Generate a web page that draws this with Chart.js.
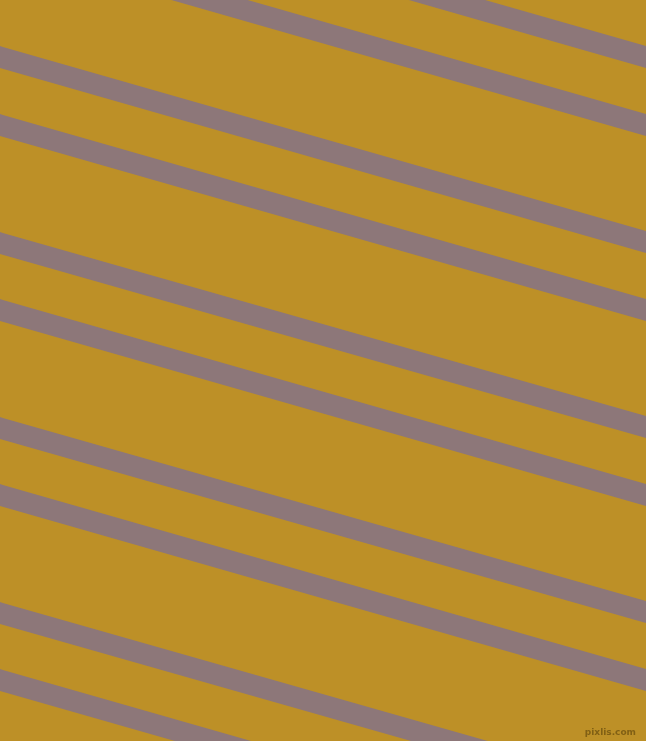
<!DOCTYPE html>
<html>
<head>
<meta charset="utf-8">
<script src="https://cdn.jsdelivr.net/npm/chart.js@4.4.1/dist/chart.umd.min.js"></script>
<style>
    html, body { margin: 0; padding: 0; background: #bd9027; }
    #wrap { position: relative; width: 646px; height: 741px; }
</style>
</head>
<body>
<div id="wrap"><canvas id="stripes"></canvas></div>
<script>
// stripe positions read at the left edge (x = 0) and right edge (x = 646), in px from top
const leftEdgeY = [-128, -60, 57, 125, 243, 310, 428, 495, 613, 680];
const rightEdgeY = [57, 125, 242, 310, 427, 495, 612, 680, 797, 865];
const edgeX = [0, 646];

const stripeColor = "#8d7779";
const bgColor = "#bd9027";

const datasets = leftEdgeY.map((y0, i) => ({
    data: [{ x: edgeX[0], y: y0 }, { x: edgeX[1], y: rightEdgeY[i] }],
    borderColor: stripeColor,
    borderWidth: 21,
    borderCapStyle: "square",
    pointRadius: 0,
    tension: 0,
    fill: false,
    clip: false,
}));

const watermark = {
    id: "watermark",
    afterDraw(chart) {
        const ctx = chart.ctx;
        ctx.save();
        ctx.font = "bold 9px 'DejaVu Sans'";
        ctx.fillStyle = "rgba(110, 80, 15, 0.75)";
        ctx.textAlign = "right";
        ctx.textBaseline = "bottom";
        ctx.fillText("pixlis.com", 636, 737);
        ctx.restore();
    }
};

new Chart(document.getElementById("stripes"), {
    type: "line",
    data: { datasets },
    options: {
        responsive: true,
        maintainAspectRatio: false,
        animation: false,
        layout: { padding: 0 },
        plugins: { legend: { display: false }, tooltip: { enabled: false } },
        scales: {
            x: { type: "linear", min: 0, max: 646, display: false },
            y: { type: "linear", min: 0, max: 741, reverse: true, display: false },
        },
    },
    plugins: [watermark],
});
</script>
</body>
</html>
